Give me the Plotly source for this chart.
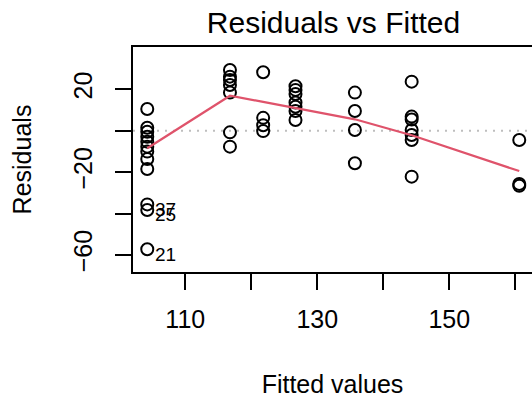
import plotly.graph_objects as go

# Fitted values (one per group) and the residuals observed at each of them
fitted_levels = [104.24, 116.77, 121.8, 126.7, 135.7, 144.3, 160.6]
residuals_by_level = [
    [10.5, 1.4, -0.5, -2.9, -5.3, -7.7, -10.1, -13.7, -18.5, -35.6, -38.3, -57.3],
    [29.3, 26.1, 24.5, 22.1, 18.4, -0.8, -7.7],
    [28.2, 6.2, 2.6, -0.2],
    [21.5, 19.7, 17.7, 13.6, 11.6, 9.5, 5.2],
    [18.4, 9.5, 0.3, -15.7],
    [23.7, 6.8, 5.4, 0.3, -2.1, -4.5, -22.2],
    [-4.5, -25.7, -26.6],
]
# Lowess smooth of residuals on fitted values
smooth_y = [-8.5, 16.9, 13.9, 11.0, 5.5, -2.2, -19.5]

# Flagged observations (largest |residual|)
id_labels = ["37", "25", "21"]
id_x = [104.24, 104.24, 104.24]
id_y = [-35.6, -38.3, -57.3]

x_ticks = [110, 120, 130, 140, 150, 160]
x_ticktext = ["110", "", "130", "", "150", ""]
y_ticks = [-60, -40, -20, 0, 20]
y_ticktext = ["\u221260", "", "\u221220", "", "20"]

xs, ys = [], []
for fv, res in zip(fitted_levels, residuals_by_level):
    xs += [fv] * len(res)
    ys += res

FONT = "Liberation Sans, Arial, Helvetica, sans-serif"
x_range = [102.08, 162.53]
y_range = [-68.26, 40.43]

fig = go.Figure()

# reference line at zero
fig.add_trace(go.Scatter(
    x=x_range, y=[0, 0], mode="lines",
    line=dict(color="#BEBEBE", width=2, dash="2px,6px"),
    hoverinfo="skip", showlegend=False,
))

fig.add_trace(go.Scatter(
    x=xs, y=ys, mode="markers",
    marker=dict(symbol="circle-open", size=12, color="black",
                line=dict(color="black", width=2)),
    showlegend=False,
))

fig.add_trace(go.Scatter(
    x=fitted_levels, y=smooth_y, mode="lines",
    line=dict(color="#DF536B", width=2.2),
    showlegend=False,
))

for lab, lx, ly in zip(id_labels, id_x, id_y):
    fig.add_annotation(
        x=lx, y=ly, text=lab, showarrow=False,
        xanchor="left", yanchor="middle", xshift=6, yshift=-5,
        font=dict(family=FONT, size=19, color="black"),
    )

fig.update_layout(
    width=532, height=398,
    margin=dict(l=133, r=0, t=47, b=126),
    paper_bgcolor="white", plot_bgcolor="white",
    font=dict(family=FONT, color="black"),
    title=dict(text="Residuals vs Fitted", x=333.5 / 532, xanchor="center",
               y=1 - 33 / 398, yanchor="bottom",
               font=dict(family=FONT, size=30, color="black")),
    xaxis=dict(
        range=x_range, showgrid=False, zeroline=False,
        showline=True, mirror=True, linecolor="black", linewidth=1.5,
        ticks="outside", ticklen=16, tickwidth=1.5, tickcolor="black",
        tickvals=x_ticks, ticktext=x_ticktext,
        tickfont=dict(family=FONT, size=25),
        ticklabelstandoff=8,
        title=dict(text="Fitted values", font=dict(family=FONT, size=25),
                   standoff=44),
    ),
    yaxis=dict(
        range=y_range, showgrid=False, zeroline=False,
        showline=True, mirror=False, linecolor="black", linewidth=1.5,
        ticks="outside", ticklen=16, tickwidth=1.5, tickcolor="black",
        tickvals=y_ticks, ticktext=y_ticktext, tickangle=-90,
        tickfont=dict(family=FONT, size=25),
        ticklabelstandoff=13,
        title=dict(text="Residuals", font=dict(family=FONT, size=25),
                   standoff=31),
    ),
)

fig.write_html("out.html")
